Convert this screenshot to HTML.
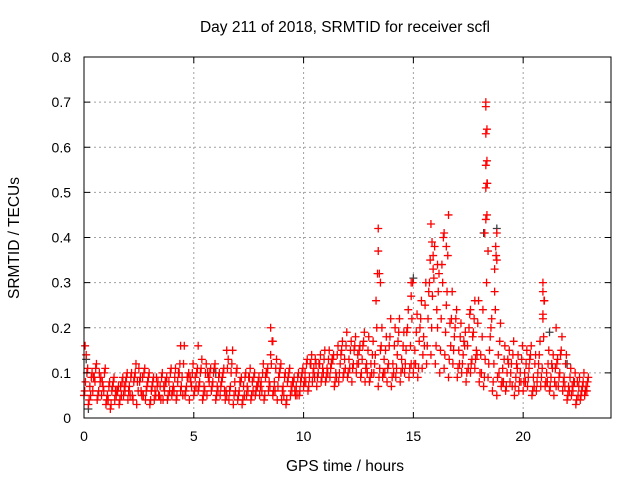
<!DOCTYPE html>
<html><head><meta charset="utf-8"><style>
body{margin:0;background:#fff;}
svg text{font-family:"Liberation Sans",sans-serif;font-size:14px;fill:#000;}
svg text.big{font-size:15.5px;}
</style></head><body>
<svg id="chart" width="640" height="480" xmlns="http://www.w3.org/2000/svg">
<rect width="640" height="480" fill="#fff"/>
<text class="big" x="345" y="32" text-anchor="middle">Day 211 of 2018, SRMTID for receiver scfl</text>
<text class="big" x="345" y="471" text-anchor="middle">GPS time / hours</text>
<text class="big" transform="translate(19,238) rotate(-90)" text-anchor="middle">SRMTID / TECUs</text>
<g id="grid"></g>
<g id="marks"></g>
<rect x="84" y="57" width="527" height="361" fill="none" stroke="#000" stroke-width="1"/>
<g id="axes"></g>
</svg>
<script>
const xTicks=[0,5,10,15,20];
const yTicks=[0,0.1,0.2,0.3,0.4,0.5,0.6,0.7,0.8];
const yTickLabels=["0","0.1","0.2","0.3","0.4","0.5","0.6","0.7","0.8"];
const v1=[.05,.03,.06,.04,.05,.03,.02,.04,.03,.05,.04,.05,.03,.06,.04,.03,.04,.05,.04,.04,.05,.04,.06,.05,.04,.05,.06,.04,.05,.06,.04,.05,.06,.04,.03,.04,.03,.05,.04,.05,.05,.04,.06,.05,.04,.04,.03,.05,.06,.05,.07,.06,.08,.07,.08,.08,.09,.07,.08,.09,.09,.08,.1,.09,.08,.08,.1,.07,.09,.08,.07,.09,.08,.1,.09,.1,.09,.11,.12,.14,.12,.1,.11,.09,.12,.09,.1,.08,.1,.11,.08,.07,.09,.06,.05,.07,.06,.08,.05,.06,.06,.07,.05,.06,.07,.07,.06,.05,.07,.06,.04,.05,.03,.04,.05];
const v2=[.08,.07,.09,.06,.07,.05,.06,.05,.07,.06,.07,.08,.06,.09,.07,.06,.05,.07,.06,.08,.07,.08,.09,.07,.08,.09,.08,.07,.09,.08,.07,.08,.06,.07,.08,.06,.07,.06,.08,.07,.08,.09,.07,.08,.09,.07,.08,.06,.07,.08,.1,.09,.11,.1,.11,.11,.12,.1,.12,.13,.13,.12,.14,.13,.12,.12,.14,.11,.13,.12,.12,.14,.13,.15,.16,.15,.17,.18,.22,.27,.24,.22,.19,.21,.18,.15,.14,.16,.13,.15,.14,.13,.15,.12,.14,.11,.1,.12,.09,.1,.1,.11,.09,.1,.11,.1,.09,.11,.1,.09,.07,.06,.08,.06,.07];
const v3=[.11,.1,.12,.09,.11,.08,.09,.07,.09,.1,.1,.12,.09,.11,.1,.09,.08,.1,.09,.11,.11,.12,.16,.1,.12,.11,.13,.12,.11,.12,.1,.11,.13,.15,.11,.09,.1,.11,.1,.09,.12,.11,.17,.13,.12,.1,.11,.09,.1,.11,.13,.14,.12,.14,.15,.15,.14,.16,.17,.19,.17,.18,.16,.19,.18,.17,.32,.2,.18,.22,.2,.22,.19,.24,.3,.23,.26,.3,.35,.38,.32,.4,.36,.28,.24,.21,.19,.23,.22,.26,.24,.52,.22,.36,.21,.16,.15,.17,.14,.16,.15,.16,.14,.17,.26,.15,.14,.13,.18,.14,.11,.1,.09,.1,.09];
const v4=[.14,.05,.08,.1,.06,.04,.07,.06,.05,.08,.05,.09,.11,.05,.08,.07,.09,.04,.08,.06,.06,.1,.05,.09,.07,.07,.1,.06,.08,.1,.06,.09,.05,.1,.06,.08,.05,.09,.06,.07,.06,.1,.14,.06,.1,.05,.09,.08,.05,.09,.08,.12,.09,.12,.1,.1,.13,.09,.14,.11,.11,.15,.12,.16,.1,.1,.26,.15,.1,.16,.1,.17,.11,.19,.12,.12,.2,.16,.28,.33,.2,.34,.25,.16,.2,.12,.17,.11,.18,.14,.1,.44,.18,.28,.1,.08,.13,.07,.12,.08,.08,.13,.07,.12,.22,.08,.12,.07,.14,.07,.06,.08,.05,.07,.06];
const v5=[.06,.04,.09,.05,.08,.04,.03,.06,.04,.07,.06,.04,.08,.05,.06,.04,.06,.05,.07,.05,.06,.05,.07,.06,.09,.06,.07,.05,.1,.07,.05,.07,.04,.06,.05,.05,.04,.07,.05,.06,.07,.05,.08,.06,.07,.06,.04,.07,.05,.06,.08,.07,.1,.09,.09,.09,.11,.08,.1,.1,.1,.11,.12,.1,.11,.09,.12,.09,.1,.11,.09,.11,.1,.12,.11,.12,.11,.14,.16,.2,.16,.15,.14,.13,.15,.11,.12,.1,.12,.13,.1,.09,.12,.08,.09,.08,.07,.1,.07,.08,.08,.09,.06,.08,.09,.08,.07,.08,.09,.08,.05,.07,.04,.05,.06];
const v6=[.1,.09,.11,.08,.1,.07,.08,.06,.08,.09,.09,.1,.08,.1,.09,.08,.07,.09,.08,.1,.09,.1,.12,.09,.1,.1,.11,.1,.1,.11,.09,.1,.11,.12,.1,.08,.09,.09,.09,.08,.1,.1,.12,.11,.11,.09,.1,.08,.09,.1,.12,.12,.13,.12,.13,.13,.13,.14,.15,.16,.15,.16,.15,.17,.15,.14,.2,.16,.15,.18,.16,.19,.16,.2,.22,.19,.22,.25,.3,.31,.28,.3,.28,.22,.22,.18,.16,.2,.19,.21,.18,.3,.2,.24,.17,.13,.12,.14,.11,.13,.12,.14,.12,.14,.18,.12,.11,.12,.15,.12,.09,.08,.07,.08,.08];
const spikeT=[0.05,4.4,5.2,6.5,8.5,8.6,13.4,13.4,13.45,13.5,14.9,14.9,15.8,15.85,15.9,16.1,16.4,16.6,16.5,17.8,17.6,18.3,18.3,18.35,18.3,18.35,18.3,18.35,18.3,18.35,18.25,18.4,18.8,18.75,18.8,18.7,20.9,20.9,20.95,20.9,21.5];
const spikeV=[.16,.16,.16,.15,.2,.17,.42,.37,.32,.3,.3,.27,.43,.39,.36,.34,.41,.45,.38,.26,.24,.7,.69,.64,.63,.57,.56,.52,.51,.45,.41,.37,.41,.38,.35,.33,.3,.28,.26,.23,.2];
const grayT=[0.1,0.2,6,15,18.2,18.8,19.1,21.2,22];
const grayV=[.13,.02,.1,.31,.41,.42,.08,.19,.12];
const X0=84,X1=611,Y0=418,Y1=57,XMAX=24,YMAX=0.8;
const sx=t=>X0+(t/XMAX)*(X1-X0);
const sy=v=>Y0-(v/YMAX)*(Y0-Y1);
const NS="http://www.w3.org/2000/svg";
const grid=document.getElementById('grid'),axes=document.getElementById('axes'),marks=document.getElementById('marks');
function mk(tag,attrs,parent){const e=document.createElementNS(NS,tag);for(const k in attrs)e.setAttribute(k,attrs[k]);parent.appendChild(e);return e;}
xTicks.forEach(t=>{const x=sx(t);
 if(t>0){const g=mk('line',{x1:x,x2:x,y1:Y1,y2:Y0,stroke:'#a0a0a0','stroke-dasharray':'2,3'},grid);
 
 }
 const a=mk('line',{x1:x,x2:x,y1:Y0,y2:Y0-6,stroke:'#000'},axes);
 
 
 const b=mk('line',{x1:x,x2:x,y1:Y1,y2:Y1+6,stroke:'#000'},axes);
 
 
 const tx=mk('text',{x:x,y:Y0+23,'text-anchor':'middle'},axes);tx.textContent=String(t);
 
 
});
yTicks.forEach((v,i)=>{const y=sy(v);
 if(v>0&&v<YMAX){const g=mk('line',{x1:X0,x2:X1,y1:y,y2:y,stroke:'#a0a0a0','stroke-dasharray':'2,3'},grid);
 
 }
 const a=mk('line',{x1:X0,x2:X0+6,y1:y,y2:y,stroke:'#000'},axes);
 
 
 const b=mk('line',{x1:X1,x2:X1-6,y1:y,y2:y,stroke:'#000'},axes);
 
 
 const tx=mk('text',{x:X0-13,y:y+5,'text-anchor':'end'},axes);tx.textContent=yTickLabels[i];
 
 
});
function plus(t,v,color){const x=sx(t),y=sy(v);
 const p=mk('path',{d:`M${x-4},${y}h8M${x},${y-4}v8`,stroke:color,'stroke-width':1.3,fill:'none'},marks);
 
 }
const series=[v1,v5,v2,v4,v6,v3];
const offs=[0,0.033,0.067,0.1,0.133,0.167];
grayT.forEach((t,i)=>plus(t,grayV[i],'#404040'));
series.forEach((arr,k)=>arr.forEach((v,i)=>plus(i*0.2+offs[k],v,'#ff0000')));
spikeT.forEach((t,i)=>plus(t,spikeV[i],'#ff0000'));
</script>
</body></html>
